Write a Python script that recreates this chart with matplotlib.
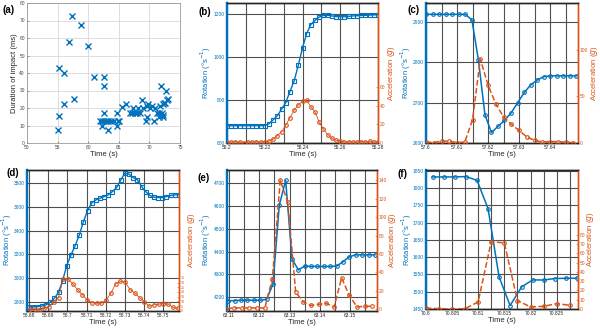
import numpy as np
import matplotlib
matplotlib.use("Agg")
import matplotlib.pyplot as plt

plt.rcParams["font.family"] = ["Liberation Sans", "DejaVu Sans"]

BLUE = "#0072BD"
ORANGE = "#D95319"
GRID = "#505050"
DARK = "#262626"

# ---------------------------------------------------------------- data
# (a) duration of every impact over the run
a_time = [55.2, 55.0, 55.3, 56.0, 56.0, 56.8, 57.3, 57.7, 58.8, 59.9, 61.0, 62.5,
          62.5, 62.5, 62.0, 62.2, 62.3, 62.6, 62.9, 63.2, 63.3, 63.8, 64.2, 64.7,
          64.7, 64.8, 65.1, 65.6, 66.2, 66.8, 67.1, 67.4, 67.6, 67.9, 68.2, 68.5,
          68.75, 69.0, 69.6, 69.4, 69.6, 69.8, 70.1, 70.4, 70.8, 70.9, 71.2, 71.5,
          71.6, 71.7, 71.9, 72.0, 72.2, 72.3, 72.3, 72.4, 72.5, 72.7, 72.8, 73.0]
a_dur = [15.2, 7.2, 42.7, 40.2, 22.4, 57.8, 72.6, 25.0, 67.7, 55.4, 37.5, 37.5,
         32.6, 17.4, 12.3, 9.9, 12.3, 12.3, 12.3, 7.2, 12.3, 12.3, 12.3, 9.9,
         17.4, 12.3, 12.3, 20.5, 22.4, 17.4, 17.4, 19.9, 17.4, 17.4, 19.9, 17.4,
         24.6, 20.0, 21.2, 12.3, 14.8, 22.4, 19.9, 21.2, 12.3, 19.9, 17.4, 17.4,
         14.8, 21.2, 32.6, 17.4, 16.1, 14.8, 22.4, 22.8, 22.8, 30.0, 24.6, 25.0]

# (b) impact at 55.2 s
b_rot_t = [55.2000, 55.2022, 55.2044, 55.2067, 55.2089, 55.2111, 55.2133, 55.2156,
           55.2178, 55.2200, 55.2222, 55.2244, 55.2267, 55.2289, 55.2311, 55.2333,
           55.2356, 55.2378, 55.2400, 55.2422, 55.2444, 55.2467, 55.2489, 55.2511,
           55.2533, 55.2556, 55.2578, 55.2600, 55.2622, 55.2644, 55.2667, 55.2689,
           55.2711, 55.2733, 55.2756, 55.2778, 55.2800]
b_rot = [681, 680, 680, 681, 680, 680, 680, 681, 680, 681, 689, 707, 727, 757, 787,
         838, 889, 962, 1042, 1108, 1150, 1170, 1185, 1192, 1193, 1190, 1187, 1186,
         1186, 1188, 1190, 1191, 1192, 1193, 1194, 1195, 1196]
b_acc_t = b_rot_t
b_acc = [1.5, 1, 1.5, 1, 0.5, 1, 1, 1.5, 1, 1.5, 2, 4, 8, 12, 19, 27, 35, 41, 44.6,
         45.6, 39, 33, 22, 15, 9, 5, 3, 2, 1, 1.5, 1, 1, 1.5, 1, 2, 1, 1.5]

# (c) impact at 57.6 s
c_rot_t = [57.6000, 57.6021, 57.6042, 57.6063, 57.6084, 57.6106, 57.6127, 57.6148,
           57.6169, 57.6190, 57.6211, 57.6232, 57.6253, 57.6274, 57.6295, 57.6317,
           57.6338, 57.6359, 57.6380, 57.6401, 57.6422, 57.6443, 57.6464, 57.6485]
c_rot = [2918, 2918, 2918, 2918, 2918, 2918, 2918, 2904, 2805, 2670, 2626, 2641,
         2656, 2674, 2699, 2725, 2744, 2756, 2764, 2766, 2766, 2766, 2766, 2766]
c_acc_t = [57.6000, 57.6025, 57.6050, 57.6075, 57.6100, 57.6125, 57.6150, 57.6175,
           57.6200, 57.6225, 57.6250, 57.6275, 57.6300, 57.6325, 57.6350, 57.6375,
           57.6400, 57.6425, 57.6450, 57.6475]
c_acc = [1, 0.5, 2, 2, 0.5, 1, 25, 90, 62, 42, 28, 20, 13.5, 6.4, 2.8, 1, 1.5, 1.5,
         0.8, 0.5]

# (d) impact at 58.68 s
d_rot_t = [58.6800, 58.6822, 58.6844, 58.6865, 58.6887, 58.6909, 58.6931, 58.6953,
           58.6974, 58.6996, 58.7018, 58.7040, 58.7062, 58.7083, 58.7105, 58.7127,
           58.7149, 58.7171, 58.7192, 58.7214, 58.7236, 58.7258, 58.7280, 58.7301,
           58.7323, 58.7345, 58.7367, 58.7389, 58.7410, 58.7432, 58.7454, 58.7476,
           58.7498, 58.7519, 58.7541, 58.7563, 58.7585]
d_rot = [2764, 2764, 2764, 2769, 2778, 2800, 2833, 2884, 2979, 3107, 3196, 3271,
         3364, 3470, 3567, 3629, 3656, 3670, 3684, 3698, 3726, 3760, 3824, 3880,
         3871, 3843, 3824, 3768, 3726, 3693, 3679, 3676, 3676, 3684, 3693, 3698, 3698]
d_acc_t = [58.6803, 58.6828, 58.6853, 58.6878, 58.6903, 58.6928, 58.6953, 58.6978,
           58.7003, 58.7028, 58.7053, 58.7078, 58.7103, 58.7128, 58.7153, 58.7178,
           58.7203, 58.7228, 58.7253, 58.7278, 58.7303, 58.7328, 58.7353, 58.7378,
           58.7403, 58.7428, 58.7453, 58.7478, 58.7503, 58.7528, 58.7553, 58.7578]
d_acc = [1.8, 1.8, 0.8, 2.6, 4.3, 9.7, 14, 34.2, 33.9, 28.5, 22.4, 17, 11.6, 8.6,
         8, 8, 11.6, 18.8, 28.8, 31.3, 30.6, 22.4, 18.8, 14, 9.7, 4.7, 6.2, 6.9,
         7.6, 6.9, 3.6, 2.6]

# (e) impact at 63.11 s
e_rot_t = [63.1097, 63.1118, 63.1139, 63.1160, 63.1181, 63.1203, 63.1224, 63.1245,
           63.1266, 63.1287, 63.1308, 63.1329, 63.1350, 63.1371, 63.1392, 63.1414,
           63.1435, 63.1456, 63.1477, 63.1498, 63.1519, 63.1540, 63.1561, 63.1582]
e_rot = [4185, 4185, 4187, 4187, 4187, 4187, 4191, 4257, 4605, 4712, 4368, 4320,
         4337, 4335, 4335, 4335, 4335, 4337, 4356, 4378, 4386, 4386, 4386, 4386]
e_acc_t = [63.1091, 63.1116, 63.1142, 63.1167, 63.1193, 63.1218, 63.1243, 63.1269,
           63.1294, 63.1320, 63.1345, 63.1370, 63.1396, 63.1421, 63.1447, 63.1472,
           63.1497, 63.1523, 63.1548, 63.1574]
e_acc = [0.5, 1.5, 1.5, 1.5, 1.5, 1.5, 33.3, 140, 115.8, 18.8, 8, 4.3, 5.4, 6.5,
         2.5, 34, 15.2, 2.5, 3.3, 3.3]

# (f) impact at 70.8 s
f_rot_t = [70.8013, 70.8034, 70.8055, 70.8077, 70.8098, 70.8119, 70.8140, 70.8161,
           70.8183, 70.8204, 70.8225, 70.8246, 70.8267, 70.8288]
f_rot = [1832, 1832, 1832, 1833, 1822, 1740, 1543, 1460, 1514, 1534, 1534, 1538,
         1539, 1539]
f_acc_t = [70.8000, 70.8025, 70.8050, 70.8075, 70.8100, 70.8125, 70.8150, 70.8175,
           70.8200, 70.8225, 70.8250, 70.8275]
f_acc = [1.1, 0.4, 0, 0.4, 7.6, 72.7, 71.3, 9.1, 2.2, 2.9, 5.8, 4]

# ---------------------------------------------------------------- layout
W, H = 600, 329
def rect(l, t, r, b):
    return [l / W, 1 - b / H, (r - l) / W, (b - t) / H]

fig = plt.figure(figsize=(W / 100, H / 100), dpi=100)

# (a) scatter of impact durations
ax = fig.add_axes(rect(27, 3, 180, 143))
ax.plot(a_time, a_dur, ls="none", marker="x", ms=4.2, mew=1.0, color=BLUE)
ax.set_xlim(50, 75); ax.set_ylim(0, 80)
ax.set_xticks(np.arange(50, 76, 5)); ax.set_yticks(np.arange(0, 81, 10))
ax.grid(True, color="#d8d8d8", lw=0.6)
ax.set_axisbelow(True)
for s in ax.spines.values():
    s.set_color("#9a9a9a"); s.set_linewidth(0.6)
ax.tick_params(direction="in", length=1.5, width=0.4, labelsize=3.5, colors="#444444",
               pad=1.5)
ax.set_xlabel("Time (s)", fontsize=5.5, color=DARK, labelpad=1)
ax.set_ylabel("Duration of impact (ms)", fontsize=5.5, color=DARK, va="center")
ax.yaxis.set_label_coords(-12 / 153, 0.5)
fig.text(9 / W, 1 - 10 / H, "(a)", fontsize=7, fontweight="bold", ha="center", va="center")


def dual(box, tag, tagxy, tr, r, ta, a, xlim, xmaj, xmin, ylim, yt, yt2, mk,
         acc_ls, acc_lw, rot_lw, lab_off=(20, 13), ylim2=(0, 150), yt2fs=3.5):
    ax = fig.add_axes(rect(*box))
    ax2 = ax.twinx()
    wpx = box[2] - box[0]
    ax.plot(tr, r, color=BLUE, marker=mk, ms=2.6, mfc="none", mew=0.8, lw=rot_lw,
            zorder=3)
    ax2.plot(ta, a, color=ORANGE, ls=acc_ls, lw=acc_lw, marker="o", ms=2.6,
             mfc="none", mew=0.8, zorder=3)
    ax.set_xlim(xlim); ax.set_ylim(ylim); ax2.set_ylim(ylim2)
    ax.set_xticks(xmaj)
    ax.set_xticklabels([f"{v:g}" for v in xmaj])
    ax.set_xticks(xmin, minor=True)
    ax.set_yticks(yt); ax2.set_yticks(yt2)
    ax.grid(True, which="both", color=GRID, lw=0.8)
    ax.set_axisbelow(True)
    ax.tick_params(which="minor", length=0)
    ax.tick_params(axis="x", direction="in", length=1.5, width=0.4, labelsize=3.5,
                   colors=DARK, pad=1.5)
    ax.tick_params(axis="y", direction="in", length=1.5, width=0.4, labelsize=3.5,
                   colors=BLUE, pad=1.5)
    ax2.tick_params(axis="y", direction="in", length=1.5, width=0.4, labelsize=yt2fs,
                    colors=ORANGE, pad=1.5)
    for A in (ax, ax2):
        A.spines["top"].set_color(DARK); A.spines["top"].set_linewidth(1.0)
        A.spines["bottom"].set_color(DARK); A.spines["bottom"].set_linewidth(1.0)
        A.spines["left"].set_color(BLUE); A.spines["left"].set_linewidth(1.6)
        A.spines["right"].set_color(ORANGE); A.spines["right"].set_linewidth(1.0)
    ax.set_xlabel("Time (s)", fontsize=5.5, color=DARK, labelpad=1)
    ax.set_ylabel("Rotation (°s$^{-1}$)", fontsize=5.5, color=BLUE, va="center")
    ax.yaxis.set_label_coords(-lab_off[0] / wpx, 0.5)
    ax2.set_ylabel("Acceleration ($g$)", fontsize=5.5, color=ORANGE, va="center")
    ax2.yaxis.set_label_coords(1 + lab_off[1] / wpx, 0.5)
    fig.text(tagxy[0] / W, 1 - tagxy[1] / H, tag, fontsize=7, fontweight="bold",
             ha="center", va="center")
    return ax, ax2


# (b)
dual((227, 3, 378, 143), "(b)", (205, 12), b_rot_t, b_rot, b_acc_t, b_acc,
     (55.2, 55.28), [55.2, 55.22, 55.24, 55.26, 55.28],
     [55.21, 55.23, 55.25, 55.27], (600, 1250), [600, 800, 1000, 1200],
     [0, 20, 40, 60], "s", "-", 0.6, 1.0, lab_off=(21, 13))
# (c)
dual((426, 3, 578, 143), "(c)", (414, 10), c_rot_t, c_rot, c_acc_t, c_acc,
     (57.6, 57.649), [57.6, 57.61, 57.62, 57.63, 57.64],
     [57.605, 57.615, 57.625, 57.635, 57.645], (2600, 2946),
     [2600, 2700, 2800, 2900], [0, 50, 100], "o", "--", 1.1, 1.1, lab_off=(20, 16))
# (d)
dual((26.7, 170, 179, 310.7), "(d)", (13, 173), d_rot_t, d_rot, d_acc_t, d_acc,
     (58.6786, 58.7585), [58.68, 58.69, 58.7, 58.71, 58.72, 58.73, 58.74, 58.75],
     [], (2730, 3906), [2800, 3000, 3200, 3400, 3600, 3800],
     [0, 5, 10, 15, 20, 25, 30, 35], "s", "-", 0.6, 1.0, lab_off=(20, 12.5),
     yt2fs=2.6)
# (e)
dual((226.7, 170, 376.7, 310.7), "(e)", (204, 178), e_rot_t, e_rot, e_acc_t, e_acc,
     (63.1092, 63.1588), [63.11, 63.12, 63.13, 63.14, 63.15],
     [63.115, 63.125, 63.135, 63.145, 63.155], (4141, 4758),
     [4200, 4300, 4400, 4500, 4600, 4700], [0, 20, 40, 60, 80, 100, 120, 140],
     "o", "--", 1.1, 1.1, lab_off=(20.5, 15.5), ylim2=(-1.5, 151))
# (f)
dual((425.7, 170, 577.7, 309), "(f)", (403, 174), f_rot_t, f_rot, f_acc_t, f_acc,
     (70.8, 70.829), [70.8, 70.805, 70.81, 70.815, 70.82, 70.825],
     [70.8025, 70.8075, 70.8125, 70.8175, 70.8225, 70.8275], (1450, 1852),
     [1450, 1500, 1550, 1600, 1650, 1700, 1750, 1800, 1850],
     [0, 10, 20, 30, 40, 50, 60, 70, 80], "o", "--", 1.1, 1.1, lab_off=(19, 13))

fig.savefig("out.png", dpi=100)
